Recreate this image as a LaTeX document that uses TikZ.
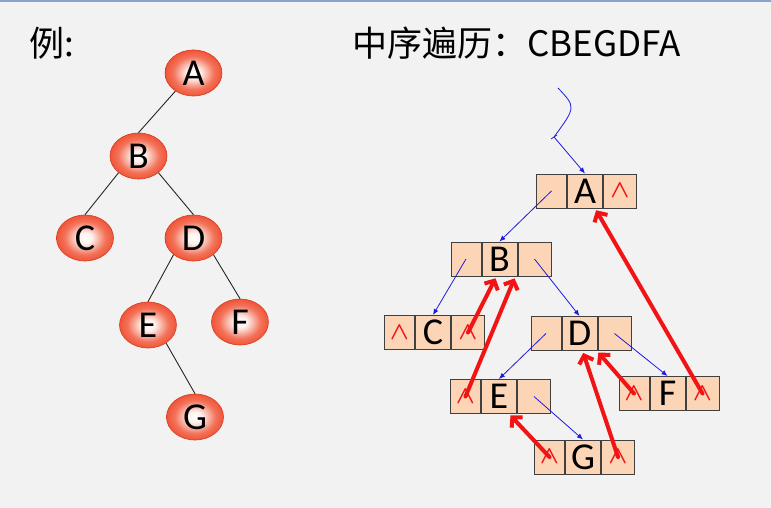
\documentclass[tikz,border=0pt]{standalone}
\usepackage{fontspec}
\setmainfont{Carlito}
\newfontfamily\cjk{Noto Sans CJK SC}
\usetikzlibrary{positioning,shapes.geometric,arrows.meta}

\definecolor{bg}{HTML}{F2F2F2}
\definecolor{rulecol}{HTML}{8DA2CB}
\definecolor{peach}{HTML}{FBD5B5}
\definecolor{cellline}{HTML}{404040}
\definecolor{ballred}{HTML}{EE4020}
\definecolor{ballpink}{HTML}{FBD0C4}
\definecolor{linkblue}{HTML}{1C1CE0}
\definecolor{threadred}{HTML}{F21414}

\pgfdeclareradialshading{ballshade}{\pgfpoint{0bp}{0bp}}{color(0bp)=(white); color(6bp)=(white!70!ballpink); color(18bp)=(ballpink!35!ballred); color(30bp)=(ballred); color(50bp)=(ballred)}

\newcommand\nilmark{\textcolor{threadred}{\fontsize{27}{27}\selectfont\boldmath$\wedge$}}

\tikzset{
	ball/.style={ellipse, shading=ballshade, draw=ballred!90!black, line width=0.6pt, minimum width=57pt, minimum height=46pt, inner sep=0pt, font=\fontsize{38}{38}\selectfont},
	cell/.style={draw=cellline, fill=peach, line width=1pt, minimum height=34pt, inner sep=0pt},
	lcell/.style={cell, minimum width=30pt},
	mcell/.style={cell, minimum width=35pt, font=\fontsize{38}{38}\selectfont},
	rcell/.style={cell, minimum width=33pt},
	branch/.style={draw=black!85, line width=0.9pt},
	link/.style={draw=linkblue, line width=0.8pt, -{Latex[length=6pt,width=5pt]}},
	thread/.style={draw=threadred, line width=4pt, line cap=round, shorten >=2pt, -{Straight Barb[length=7pt,width=15pt]}},
	title/.style={anchor=base west, inner sep=0pt, font=\cjk\fontsize{35}{35}\selectfont}
}

\begin{document}
\begin{tikzpicture}[x=1pt, y=-1pt]
	\useasboundingbox (0,0) rectangle (771,508);
	\fill [bg] (0,0) rectangle (771,508);
	\draw [rulecol, line width=1.5pt] (0,1) -- (771,1);

	% заголовки
	\node [title] (ex) at (29,57) {例:};
	\node [title] (seq) at (352,57) {中序遍历：CBEGDFA};

	% двоичное дерево
	\node [ball] (A) at (193.5,73) {A};
	\node [ball] (B) at (138.5,156) {B};
	\node [ball] (C) at (85,238) {C};
	\node [ball] (D) at (193.5,238) {D};
	\node [ball] (E) at (148,325) {E};
	\node [ball] (F) at (240,322) {F};
	\node [ball] (G) at (195,417) {G};
	\draw [branch] (A.225) -- (B.north);
	\draw [branch] (B.220) -- (C.north);
	\draw [branch] (B.-40) -- (D.north);
	\draw [branch] (D.220) -- (E.north);
	\draw [branch] (D.-40) -- (F.north);
	\draw [branch] (E.-45) -- (G.north);

	% узлы связного хранения
	% A
	\node [mcell] (Am) at (585,191) {A};
	\node [lcell, left=0pt of Am] (Al) {};
	\node [rcell, right=0pt of Am] (Ar) {\nilmark};
	% B
	\node [mcell] (Bm) at (499.5,259) {B};
	\node [lcell, left=0pt of Bm] (Bl) {};
	\node [rcell, right=0pt of Bm] (Br) {};
	% C
	\node [mcell] (Cm) at (433,332.5) {C};
	\node [lcell, left=0pt of Cm] (Cl) {\nilmark};
	\node [rcell, right=0pt of Cm] (Cr) {\nilmark};
	% D
	\node [mcell] (Dm) at (579.5,333.5) {D};
	\node [lcell, left=0pt of Dm] (Dl) {};
	\node [rcell, right=0pt of Dm] (Dr) {};
	% E
	\node [mcell] (Em) at (499,396.5) {E};
	\node [lcell, left=0pt of Em] (El) {\nilmark};
	\node [rcell, right=0pt of Em] (Er) {};
	% F
	\node [mcell] (Fm) at (667.5,393.5) {F};
	\node [lcell, left=0pt of Fm] (Fl) {\nilmark};
	\node [rcell, right=0pt of Fm] (Fr) {\nilmark};
	% G
	\node [mcell] (Gm) at (583,457) {G};
	\node [lcell, left=0pt of Gm] (Gl) {\nilmark};
	\node [rcell, right=0pt of Gm] (Gr) {\nilmark};

	% указатели на детей
	\coordinate (root) at (558,88);
	\coordinate (bend) at (554,137);
	\draw [link] (root) .. controls (576,107) .. (bend) -- (Am.north);
	\draw [draw=linkblue, line width=0.8pt] ([shift={(-3,2)}]bend) -- ([shift={(3,-2)}]bend);
	\draw [link] (Al.center) -- (Bm.north);
	\draw [link] (Bl.center) -- (Cm.north);
	\draw [link] (Br.center) -- (Dm.north);
	\draw [link] (Dl.center) -- (Em.north);
	\draw [link] (Dr.center) -- (Fm.north);
	\draw [link] (Er.center) -- (Gm.north);

	% нити
	\draw [thread] (Cr.center) -- (Bm.-100);
	\draw [thread] (El.center) -- (Bm.-48);
	\draw [thread] (Gl.center) -- (Em.-60);
	\draw [thread] (Gr.center) -- (Dm.-80);
	\draw [thread] (Fl.center) -- (Dm.-45);
	\draw [thread] (Fr.center) -- (Am.-60);
\end{tikzpicture}
\end{document}
